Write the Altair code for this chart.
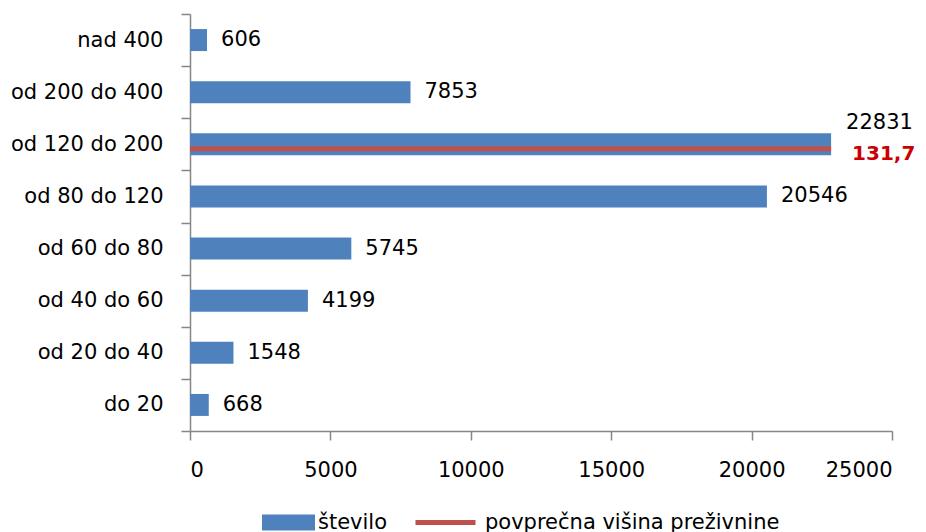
import altair as alt
import pandas as pd

categories = ["nad 400", "od 200 do 400", "od 120 do 200", "od 80 do 120",
              "od 60 do 80", "od 40 do 60", "od 20 do 40", "do 20"]
stevilo = [606, 7853, 22831, 20546, 5745, 4199, 1548, 668]
x_ticks = [0, 5000, 10000, 15000, 20000, 25000]
series_bar = "število"
series_line = "povprečna višina preživnine"
line_category = "od 120 do 200"
line_value = 131.7
line_label = "131,7"

FONT = "DejaVu Sans"
BLUE = "#4F81BD"
RED = "#C0504D"
AXIS = "#868686"

df = pd.DataFrame({"kategorija": categories, "stevilo": stevilo})
df["label"] = df["stevilo"].astype(str)
df["serija"] = series_bar

line_end = df.loc[df["kategorija"] == line_category, "stevilo"].iloc[0]
line_df = pd.DataFrame({
    "kategorija": [line_category],
    "start": [0],
    "end": [line_end],
    "vrednost": [line_value],
    "label": [line_label],
    "serija": [series_line],
})

y_enc = alt.Y(
    "kategorija:N", sort=categories,
    scale=alt.Scale(paddingInner=0, paddingOuter=0),
    axis=alt.Axis(title=None, tickBand="extent", tickSize=9, labelPadding=18,
                  domainColor=AXIS, tickColor=AXIS, labelColor="#000000",
                  labelFont=FONT, labelFontSize=21, domainWidth=1.5, tickWidth=1.5),
)
x_scale = alt.Scale(domain=[0, 25000], nice=False)

bars = alt.Chart(df).mark_bar(size=22).encode(
    x=alt.X("stevilo:Q", scale=x_scale,
            axis=alt.Axis(values=x_ticks, title=None, grid=False, format="d",
                          tickSize=9, labelPadding=19, domainColor=AXIS, tickColor=AXIS,
                          labelColor="#000000", labelFont=FONT, labelFontSize=21,
                          domainWidth=1.5, tickWidth=1.5)),
    y=y_enc,
    fill=alt.Fill("serija:N",
                  scale=alt.Scale(domain=[series_bar], range=[BLUE]),
                  legend=alt.Legend(title=None, orient="none", legendX=72, legendY=482,
                                    symbolType="M-1,-0.3H1V0.3H-1Z", symbolSize=2809,
                                    symbolStrokeWidth=0, labelOffset=3, padding=0,
                                    labelLimit=0,
                                    labelFont=FONT, labelFontSize=21, labelColor="#000000")),
)

labels = alt.Chart(df).transform_filter(
    alt.datum.kategorija != line_category
).mark_text(align="left", baseline="middle", dx=14, font=FONT, fontSize=21,
            color="#000000").encode(
    x=alt.X("stevilo:Q", scale=x_scale), y=alt.Y("kategorija:N", sort=categories), text="label:N"
)

label_hi = alt.Chart(df).transform_filter(
    alt.datum.kategorija == line_category
).mark_text(align="left", baseline="middle", dx=15, dy=-21, font=FONT, fontSize=21,
            color="#000000").encode(
    x=alt.X("stevilo:Q", scale=x_scale), y=alt.Y("kategorija:N", sort=categories), text="label:N"
)

rule = alt.Chart(line_df).mark_rule(strokeWidth=5, yOffset=4.5).encode(
    x=alt.X("start:Q", scale=x_scale),
    x2="end:Q",
    y=alt.Y("kategorija:N", sort=categories),
    stroke=alt.Stroke("serija:N",
                      scale=alt.Scale(domain=[series_line], range=[RED]),
                      legend=alt.Legend(title=None, orient="none", legendX=223, legendY=476,
                                        symbolType="stroke", symbolSize=3600,
                                        symbolStrokeWidth=5, labelOffset=7, padding=0,
                                        labelLimit=0,
                                        labelFont=FONT, labelFontSize=21, labelColor="#000000")),
)

line_text = alt.Chart(line_df).mark_text(
    align="left", baseline="middle", dx=21, dy=10, font=FONT, fontSize=20,
    fontWeight="bold", color="#CC0000"
).encode(
    x=alt.X("end:Q", scale=x_scale), y=alt.Y("kategorija:N", sort=categories), text="label:N"
)

chart = alt.layer(bars, labels, label_hi, rule, line_text).resolve_scale(
    fill="independent", stroke="independent"
).properties(
    width=702, height=417,
    autosize=alt.AutoSizeParams(type="none"),
    padding={"left": 182, "top": 6, "right": 26, "bottom": 110},
).configure(background="white").configure_view(strokeWidth=0, stroke="transparent")

chart.save("out.html", embed_options={"renderer": "svg", "actions": False})
